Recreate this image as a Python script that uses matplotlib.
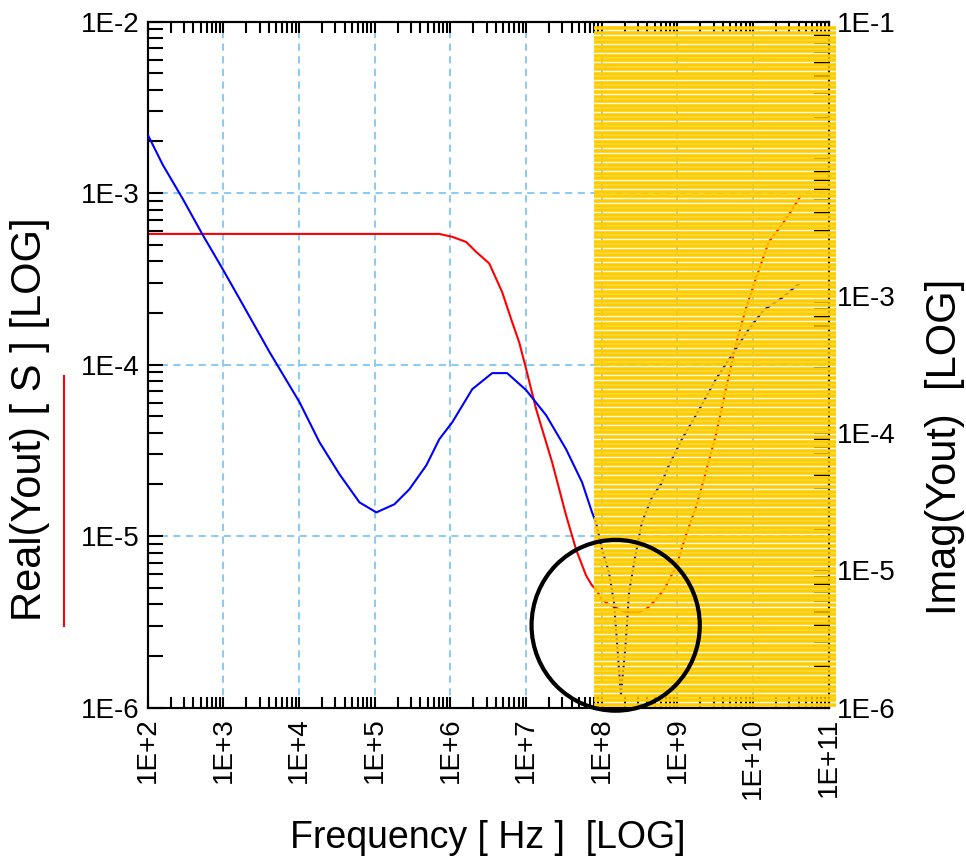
"""
Output admittance Yout vs frequency, real part (left axis) and imaginary part
(right axis), with the >1E+8 Hz region hatched out in yellow.
"""

import matplotlib
matplotlib.use("Agg")
import matplotlib.pyplot as plt
import matplotlib.ticker as mticker
from matplotlib.collections import LineCollection
from matplotlib.lines import Line2D
from matplotlib.patches import Ellipse
import numpy as np

RED    = "#FF0000"
BLUE   = "#0000FF"
GRID   = "#7FC6F5"
YELLOW = "#FFCC00"

# Real(Yout) [S], left axis — log10 of frequency and of value
real_logf = [2.000, 5.852, 6.024, 6.208, 6.340, 6.512, 6.683, 6.815, 6.908, 7.000,
             7.132, 7.343, 7.528, 7.660, 7.792, 7.871, 7.923, 8.003, 8.095, 8.319,
             8.491, 8.596, 8.715, 8.821, 8.887, 8.992, 9.111, 9.243, 9.348, 9.507,
             9.639, 9.770, 9.902, 10.034, 10.206, 10.338, 10.470, 10.628]
real_logy = [-3.238, -3.238, -3.255, -3.285, -3.343, -3.410, -3.577, -3.752, -3.870, -4.026,
             -4.260, -4.569, -4.879, -5.078, -5.230, -5.288, -5.311, -5.370, -5.399, -5.445,
             -5.445, -5.422, -5.370, -5.311, -5.258, -5.165, -4.996, -4.832, -4.669, -4.412,
             -4.143, -3.886, -3.676, -3.501, -3.285, -3.209, -3.127, -3.016]

# Imag(Yout), right axis
imag_logf = [2.000, 2.198, 2.462, 2.726, 2.989, 3.214, 3.609, 4.005, 4.269, 4.533,
             4.797, 5.021, 5.259, 5.456, 5.681, 5.852, 6.024, 6.288, 6.551, 6.749,
             7.000, 7.264, 7.528, 7.739, 7.871, 7.923, 8.003, 8.095, 8.161, 8.201,
             8.240, 8.253, 8.266, 8.293, 8.319, 8.359, 8.451, 8.530, 8.662, 8.781,
             8.887, 9.058, 9.282, 9.507, 9.718, 9.942, 10.140, 10.377, 10.602]
imag_logy = [-1.825, -2.044, -2.292, -2.555, -2.803, -3.022, -3.409, -3.774, -4.066, -4.299,
             -4.504, -4.577, -4.518, -4.409, -4.234, -4.044, -3.920, -3.679, -3.562, -3.562,
             -3.686, -3.869, -4.117, -4.358, -4.577, -4.650, -4.847, -5.015, -5.234, -5.526,
             -5.818, -5.912, -5.818, -5.672, -5.504, -5.161, -4.869, -4.650, -4.467, -4.372,
             -4.234, -4.044, -3.832, -3.606, -3.431, -3.241, -3.102, -3.015, -2.912]

x_range     = (1e2, 1e11)
left_range  = (1e-6, 1e-2)
right_range = (1e-6, 1e-1)
right_hidden_labels = [-2]   # the original shows no 1E-2 on the right scale

plt.rcParams.update({
    "font.family": ["Liberation Sans", "DejaVu Sans"],
    "font.size": 20,
})


def exp_fmt(v, _):
    return f"1E{int(round(np.log10(v))):+d}"


def right_fmt(v, _):
    e = int(round(np.log10(v)))
    return "" if e in right_hidden_labels else f"1E{e:+d}"


def log_axis(axis, fmt=exp_fmt):
    axis.set_major_locator(mticker.LogLocator(base=10, numticks=20))
    axis.set_minor_locator(mticker.LogLocator(base=10, subs=np.arange(2, 10), numticks=20))
    axis.set_major_formatter(mticker.FuncFormatter(fmt))
    axis.set_minor_formatter(mticker.NullFormatter())


fig = plt.figure(figsize=(9.66, 8.64), dpi=100)
ax = fig.add_axes([0.153, 0.181, 0.705, 0.794])
ax2 = ax.twinx()

ax.set_xscale("log")
ax.set_yscale("log")
ax2.set_yscale("log")
ax.set_xlim(*x_range)
ax.set_ylim(*left_range)
ax2.set_ylim(*right_range)
log_axis(ax.xaxis)
log_axis(ax.yaxis)
log_axis(ax2.yaxis, right_fmt)

ax.plot(10 ** np.array(real_logf), 10 ** np.array(real_logy), color=RED, lw=1.5, zorder=3)
ax2.plot(10 ** np.array(imag_logf), 10 ** np.array(imag_logy), color=BLUE, lw=1.5, zorder=3)

ax.grid(which="major", color=GRID, linestyle=(0, (4, 3)), linewidth=1.3)

ax.tick_params(which="both", direction="in", top=True, right=False, width=1.5, colors="black")
ax.tick_params(axis="x", which="both", length=8, pad=7)
ax.tick_params(axis="x", which="major", labelrotation=90)
ax.tick_params(axis="y", which="both", length=11, pad=6)
ax2.tick_params(which="both", direction="in", length=11, width=1.5, pad=6)
for lbl in ax.get_xticklabels():
    lbl.set_va("top")
for a in (ax, ax2):
    for sp in a.spines.values():
        sp.set_linewidth(1.5)

# yellow striped block over the upper frequency range
ys = np.linspace(0.004, 0.99, 150)
segs = [[(0.655, y), (1.01, y)] for y in ys]
stripes = LineCollection(segs, colors=YELLOW, linewidths=2.6, transform=ax2.transAxes,
                         zorder=5, clip_on=False)
ax2.add_collection(stripes)

ax2.add_patch(Ellipse((0.687, 0.120), 0.247, 0.249, transform=ax2.transAxes,
                      fill=False, edgecolor="black", lw=3, zorder=6, clip_on=False))

fig.text(30 / 966, 1 - 419 / 864, "Real(Yout) [ S ] [LOG]", rotation=90,
         ha="center", va="center", fontsize=30)
fig.add_artist(Line2D([64 / 966, 64 / 966], [1 - 376 / 864, 1 - 626 / 864],
                      color=RED, lw=1.5, transform=fig.transFigure))
fig.text(945 / 966, 1 - 447 / 864, "Imag(Yout)  [LOG]", rotation=90,
         ha="center", va="center", fontsize=30)
fig.text(488 / 966, 1 - 838 / 864, "Frequency [ Hz ]  [LOG]",
         ha="center", va="center", fontsize=27)

fig.savefig("out.png", dpi=100)
